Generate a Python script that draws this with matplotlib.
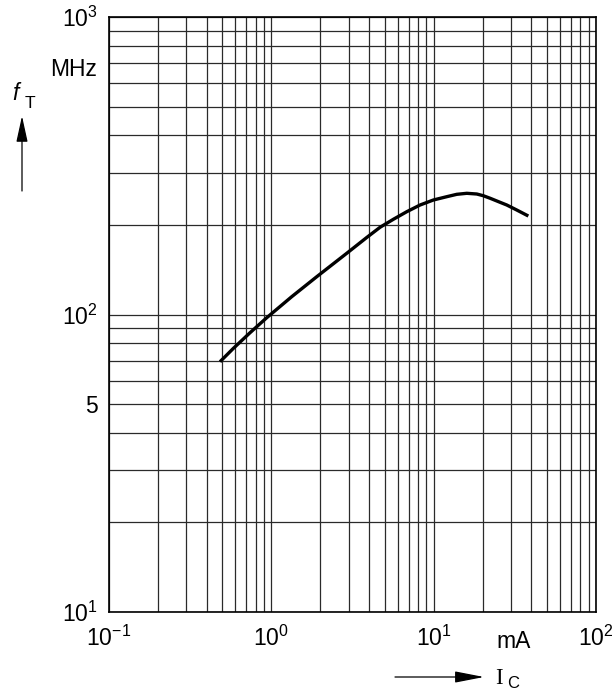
import numpy as np
import matplotlib
matplotlib.use("Agg")
import matplotlib.pyplot as plt
from matplotlib.patches import FancyArrowPatch

plt.rcParams['font.family'] = ['Liberation Sans', 'DejaVu Sans']
plt.rcParams['mathtext.fontset'] = 'custom'
plt.rcParams['mathtext.rm'] = 'Liberation Sans'
plt.rcParams['mathtext.it'] = 'Liberation Sans:italic'

# transition frequency vs collector current
ic_ma = [0.483, 0.583, 0.740, 0.936, 1.336, 1.905, 2.914, 3.87, 4.68, 5.65,
         6.83, 8.25, 9.96, 12.05, 13.88, 16.0, 18.44, 20.2, 22.26, 25.6,
         28.2, 32.5, 38.3]
ft_mhz = [69.4, 76.9, 86.9, 97.5, 114.8, 134.0, 160.6, 181.5, 196.5, 209.0,
          221.6, 233.4, 242.6, 248.9, 253.5, 255.5, 254.1, 250.8, 245.9, 238.4,
          233.4, 224.5, 214.3]

x_ticks = [0.1, 1, 10, 100]
x_ticklabels = [r'$10^{-1}$', r'$10^{0}$', r'$10^{1}$', r'$10^{2}$']
y_ticks = [10, 50, 100, 1000]
y_ticklabels = [r'$10^{1}$', '5', r'$10^{2}$', r'$10^{3}$']

FS = 16.5
W, H = 613, 691
fig = plt.figure(figsize=(W / 100, H / 100), dpi=100)
ax = fig.add_axes([109 / W, 1 - 612 / H, 487 / W, 595 / H])

ax.set_xscale('log')
ax.set_yscale('log')
ax.set_xlim(0.1, 100)
ax.set_ylim(10, 1000)

ax.grid(True, which='both', color='#2a2a2a', linewidth=0.9)
ax.set_axisbelow(True)
for s in ax.spines.values():
    s.set_linewidth(1.2)
    s.set_color('black')

ax.plot(ic_ma, ft_mhz, color='black', linewidth=2.4, solid_capstyle='butt',
        solid_joinstyle='round')

ax.set_xticks(x_ticks)
ax.set_xticklabels(x_ticklabels, fontsize=FS)
ax.set_yticks(y_ticks)
ax.set_yticklabels(y_ticklabels, fontsize=FS)
ax.xaxis.set_minor_formatter(plt.NullFormatter())
ax.yaxis.set_minor_formatter(plt.NullFormatter())
ax.tick_params(which='both', length=0)
ax.tick_params(axis='x', pad=10)
ax.tick_params(axis='y', pad=8)

# unit labels sitting in the tick label rows
fig.text(514 / W, 1 - 641 / H, 'mA', fontsize=FS, ha='center', va='center')
fig.text(97 / W, 1 - 70 / H, 'MHz', fontsize=FS, ha='right', va='center')

# f_T label with arrow
fig.text(12 / W, 1 - 100 / H, 'f', fontsize=FS, style='italic', ha='left', va='baseline')
fig.text(25 / W, 1 - 108 / H, 'T', fontsize=12.5, ha='left', va='baseline')
fig.patches.append(FancyArrowPatch((22 / W, 1 - 191 / H), (22 / W, 1 - 116 / H),
                                   transform=fig.transFigure,
                                   arrowstyle='-|>,head_length=1.6,head_width=0.35',
                                   mutation_scale=10, color='black', linewidth=0.9,
                                   shrinkA=0, shrinkB=0))

# I_C label with arrow
fig.patches.append(FancyArrowPatch((395 / W, 1 - 677 / H), (484 / W, 1 - 677 / H),
                                   transform=fig.transFigure,
                                   arrowstyle='-|>,head_length=1.8,head_width=0.35',
                                   mutation_scale=10, color='black', linewidth=0.9,
                                   shrinkA=0, shrinkB=0))
fig.text(495 / W, 1 - 684 / H, 'I', fontsize=FS, family='Liberation Serif',
         ha='left', va='baseline')
fig.text(507 / W, 1 - 688 / H, 'C', fontsize=12, ha='left', va='baseline')

fig.savefig('out.png', dpi=100)
